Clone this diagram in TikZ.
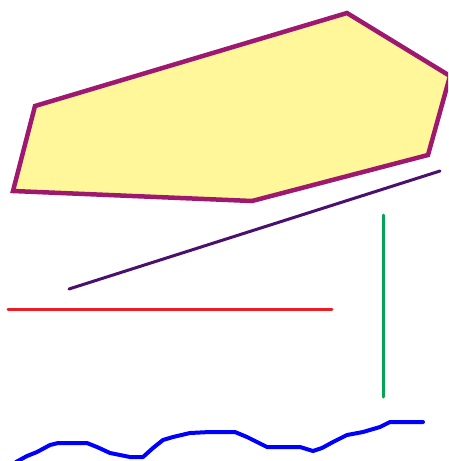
\documentclass[tikz,border=0pt]{standalone}
\definecolor{polyedge}{HTML}{9E1870}
\definecolor{polyfill}{HTML}{FFF799}
\definecolor{diag}{HTML}{4A106E}
\definecolor{redl}{HTML}{EE1C24}
\definecolor{greenl}{HTML}{00A651}
\definecolor{bluel}{HTML}{0000FF}
\begin{document}
\begin{tikzpicture}[x=1pt,y=-1pt,
  polyshape/.style={draw=polyedge,fill=polyfill,line width=4.5pt,line join=miter},
  seg/.style={line width=3pt,line cap=round}]
\useasboundingbox (0,0) rectangle (448,461);
\clip (0,0) rectangle (448,461);
\draw[polyshape] (35,106) -- (347,13) -- (450,76) -- (428,155) -- (252,201) -- (13,191) -- cycle;
\coordinate (d1) at (69,289); \coordinate (d2) at (440,171);
\draw[seg,diag] (d1) -- (d2);
\coordinate (r1) at (8,309); \coordinate (r2) at (332,309);
\draw[seg,redl] (r1) -- (r2);
\coordinate (g1) at (383,215); \coordinate (g2) at (383,397);
\draw[seg,greenl] (g1) -- (g2);
\draw[bluel,line width=4pt,line join=round,line cap=round]
 (16,462) -- (27,456) -- (37,452) -- (50,445) -- (58,443) -- (87,443) -- (97,447)
 -- (110,453) -- (130,457) -- (143,457) -- (153,448) -- (163,440) -- (173,437)
 -- (190,433) -- (210,432) -- (235,432) -- (247,437) -- (267,447) -- (300,447)
 -- (313,451) -- (322,448) -- (333,442) -- (347,435) -- (363,432) -- (380,427)
 -- (390,422) -- (423,422);
\end{tikzpicture}
\end{document}
